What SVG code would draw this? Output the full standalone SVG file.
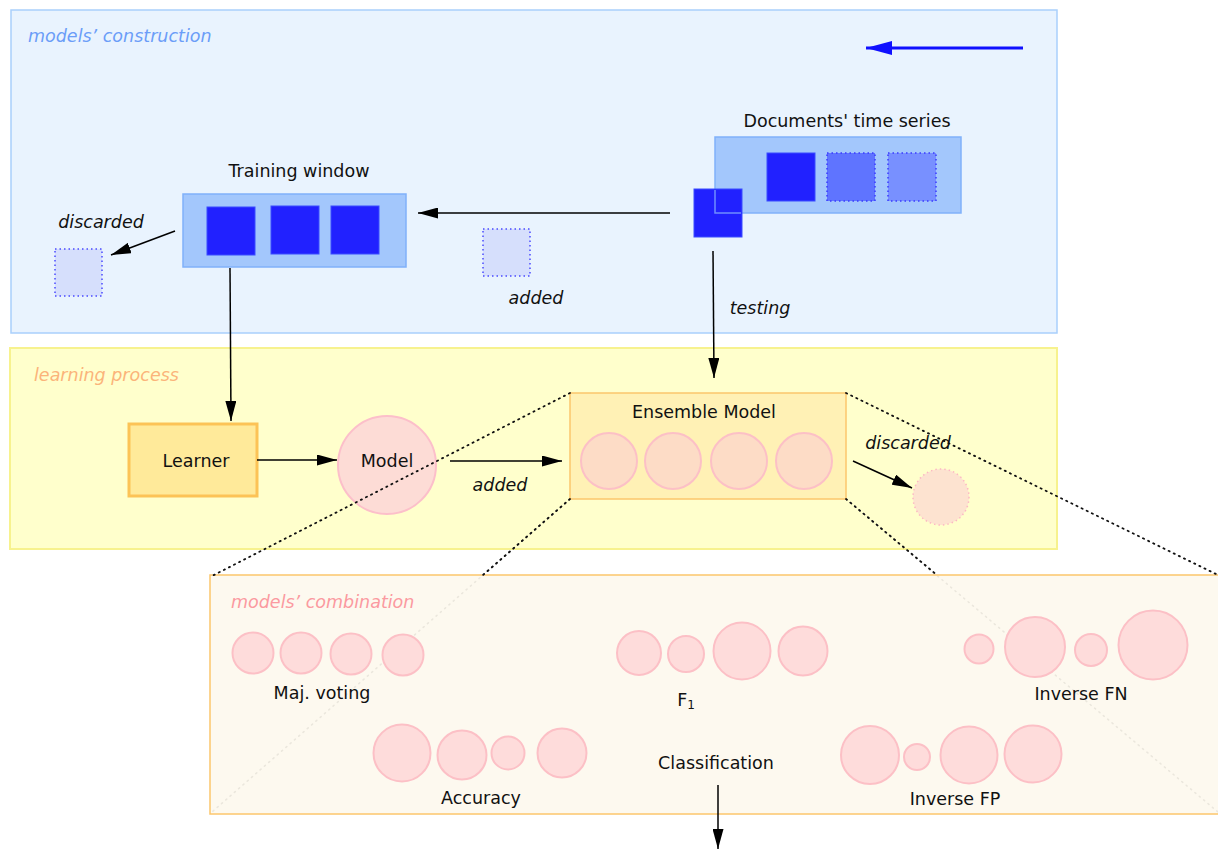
<svg xmlns="http://www.w3.org/2000/svg" width="1218" height="851" viewBox="0 0 1218 851">
<defs>
<marker id="ah" viewBox="0 0 10 10" refX="10" refY="5" markerWidth="20" markerHeight="11" markerUnits="userSpaceOnUse" orient="auto" preserveAspectRatio="none"><path d="M0,0 L10,5 L0,10 z" fill="#000"/></marker>
<marker id="ahb" viewBox="0 0 10 10" refX="10" refY="5" markerWidth="26" markerHeight="14" markerUnits="userSpaceOnUse" orient="auto" preserveAspectRatio="none"><path d="M0,0 L10,5 L0,10 z" fill="#1010ff"/></marker>
<style>
text{font-family:"DejaVu Sans","Liberation Sans",sans-serif;font-size:17.5px;fill:#111;}
.it{font-style:italic;}
.panel{font-style:italic;font-size:17.5px;}
.c{text-anchor:middle;}
.sq{fill:#2121ff;stroke:#3a4cff;stroke-width:1;}
.dsq{fill:#d6dffc;stroke:#4a4aff;stroke-width:1.5;stroke-dasharray:1.5 3;}
.pc{fill:#fedcdb;stroke:#fcc0c6;stroke-width:2;}
.ec{fill:#fddcc6;stroke:#fcc0c6;stroke-width:2;}
.ln{stroke:#000;stroke-width:1.5;fill:none;}
.dot{stroke:#111;stroke-width:1.8;stroke-dasharray:1.2 4.5;fill:none;stroke-linecap:round;}
.dotg{stroke:#888;stroke-width:1.6;stroke-dasharray:1.2 4.5;fill:none;stroke-linecap:round;}
</style>
</defs>
<rect width="1218" height="851" fill="#fff"/>
<g id="panel-construction">
<rect x="11" y="10" width="1046" height="323" fill="#e9f3fe" stroke="#a9cffc" stroke-width="1.5"/>
<text x="28" y="42" class="panel" style="fill:#6b9df8">models’ construction</text>
</g>
<g id="panel-learning">
<rect x="10" y="348" width="1047" height="201" fill="#ffffcc" stroke="#f7f28e" stroke-width="2"/>
<text x="34" y="381" class="panel" style="fill:#fbb47a">learning process</text>
</g>
<g id="zoom-lines-back">
<line x1="570" y1="499" x2="212" y2="812" class="dotg"/>
<line x1="846" y1="499" x2="1218" y2="812" class="dotg"/>
</g>
<g id="panel-combination">
<rect x="210" y="575" width="1012" height="239" fill="#fdf8ec" fill-opacity="0.85" stroke="#fcc66c" stroke-width="1.5"/>
<text x="231" y="608" class="panel" style="fill:#fb9aa0">models’ combination</text>
</g>
<g id="direction-arrow">
<line x1="1023" y1="48" x2="866" y2="48" stroke="#1010ff" stroke-width="3" marker-end="url(#ahb)"/>
</g>
<g id="documents">
<text x="847" y="127" class="c">Documents' time series</text>
<rect x="715" y="137" width="246" height="76" fill="#a3c7fc" stroke="#80b1fa" stroke-width="1.5"/>
<rect x="767" y="153" width="48" height="48" class="sq"/>
<rect x="827" y="153" width="48" height="48" fill="#5f74ff" stroke="#3a3aff" stroke-width="1.5" stroke-dasharray="1.5 3"/>
<rect x="888" y="153" width="48" height="48" fill="#7890ff" stroke="#3a3aff" stroke-width="1.5" stroke-dasharray="1.5 3"/>
</g>
<g id="current-doc">
<rect x="694" y="189" width="48" height="48" class="sq"/>
<polyline points="715,190 715,213 741,213" fill="none" stroke="#6f8dff" stroke-width="1.5"/>
</g>
<g id="training-window">
<text x="299" y="177" class="c">Training window</text>
<rect x="183" y="194" width="223" height="73" fill="#a3c7fc" stroke="#80b1fa" stroke-width="1.5"/>
<rect x="207" y="207" width="48" height="48" class="sq"/>
<rect x="271" y="206" width="48" height="48" class="sq"/>
<rect x="331" y="206" width="48" height="48" class="sq"/>
</g>
<g id="discarded-doc">
<rect x="55" y="249" width="47" height="47" class="dsq"/>
<text x="101" y="228" class="it c">discarded</text>
</g>
<g id="added-doc">
<rect x="483" y="229" width="47" height="47" class="dsq"/>
<text x="536" y="304" class="it c">added</text>
</g>
<g id="testing-label"><text x="760" y="314" class="it c">testing</text></g>
<g id="learner">
<rect x="129" y="424" width="128" height="72" fill="#ffea9a" stroke="#fcc356" stroke-width="3"/>
<text x="196" y="467" class="c">Learner</text>
</g>
<g id="model">
<circle cx="387" cy="465" r="49" fill="#fddcd6" stroke="#fcbfca" stroke-width="2"/>
<text x="387" y="467" class="c">Model</text>
</g>
<g id="model-added-label"><text x="500" y="491" class="it c">added</text></g>
<g id="ensemble">
<rect x="570" y="393" width="276" height="106" fill="#fff1b5" stroke="#fcc66c" stroke-width="1.5"/>
<text x="704" y="418" class="c">Ensemble Model</text>
<circle cx="609" cy="461" r="28" class="ec"/>
<circle cx="673" cy="461" r="28" class="ec"/>
<circle cx="739" cy="461" r="28" class="ec"/>
<circle cx="804" cy="461" r="28" class="ec"/>
</g>
<g id="discarded-model">
<circle cx="941" cy="497" r="28" fill="#fde3d0" stroke="#fcb8c4" stroke-width="1.5" stroke-dasharray="1.5 3"/>
<text x="908" y="449" class="it c">discarded</text>
</g>
<g id="zoom-lines">
<line x1="570" y1="393" x2="212" y2="576" class="dot"/>
<line x1="846" y1="393" x2="1218" y2="575" class="dot"/>
<line x1="570" y1="499" x2="483" y2="575" class="dot"/>
<line x1="846" y1="499" x2="937" y2="575" class="dot"/>
</g>
<g id="maj-voting">
<circle cx="253" cy="653" r="20.5" class="pc"/>
<circle cx="301" cy="653" r="20.5" class="pc"/>
<circle cx="351" cy="654" r="20.5" class="pc"/>
<circle cx="403" cy="655" r="20.5" class="pc"/>
<text x="322" y="699" class="c">Maj. voting</text>
</g>
<g id="f1">
<circle cx="639" cy="653" r="22" class="pc"/>
<circle cx="686" cy="654" r="18" class="pc"/>
<circle cx="742" cy="651" r="28.5" class="pc"/>
<circle cx="803" cy="651" r="24.5" class="pc"/>
<text x="686" y="706" class="c">F<tspan font-size="12" dy="3">1</tspan></text>
</g>
<g id="inverse-fn">
<circle cx="979" cy="649" r="14.5" class="pc"/>
<circle cx="1035" cy="647" r="30" class="pc"/>
<circle cx="1091" cy="650" r="16" class="pc"/>
<circle cx="1153" cy="645" r="34.5" class="pc"/>
<text x="1081" y="700" class="c">Inverse FN</text>
</g>
<g id="accuracy">
<circle cx="402" cy="753" r="28.5" class="pc"/>
<circle cx="462" cy="755" r="24.5" class="pc"/>
<circle cx="508" cy="753" r="16.5" class="pc"/>
<circle cx="562" cy="753" r="24.5" class="pc"/>
<text x="481" y="804" class="c">Accuracy</text>
</g>
<g id="inverse-fp">
<circle cx="870" cy="755" r="29" class="pc"/>
<circle cx="917" cy="757" r="13" class="pc"/>
<circle cx="969" cy="755" r="28.5" class="pc"/>
<circle cx="1033" cy="754" r="28.5" class="pc"/>
<text x="955" y="805" class="c">Inverse FP</text>
</g>
<g id="classification"><text x="716" y="769" class="c">Classification</text></g>
<g id="connectors">
<line x1="670" y1="213" x2="418" y2="213" class="ln" marker-end="url(#ah)"/>
<line x1="175" y1="231" x2="111" y2="255" class="ln" marker-end="url(#ah)"/>
<line x1="713" y1="251" x2="714" y2="378" class="ln" marker-end="url(#ah)"/>
<line x1="230" y1="268" x2="231" y2="421" class="ln" marker-end="url(#ah)"/>
<line x1="257" y1="460" x2="337" y2="460" class="ln" marker-end="url(#ah)"/>
<line x1="450" y1="461" x2="562" y2="461" class="ln" marker-end="url(#ah)"/>
<line x1="853" y1="461" x2="912" y2="488" class="ln" marker-end="url(#ah)"/>
<line x1="718" y1="785" x2="718" y2="849" class="ln" marker-end="url(#ah)"/>
</g>
</svg>
